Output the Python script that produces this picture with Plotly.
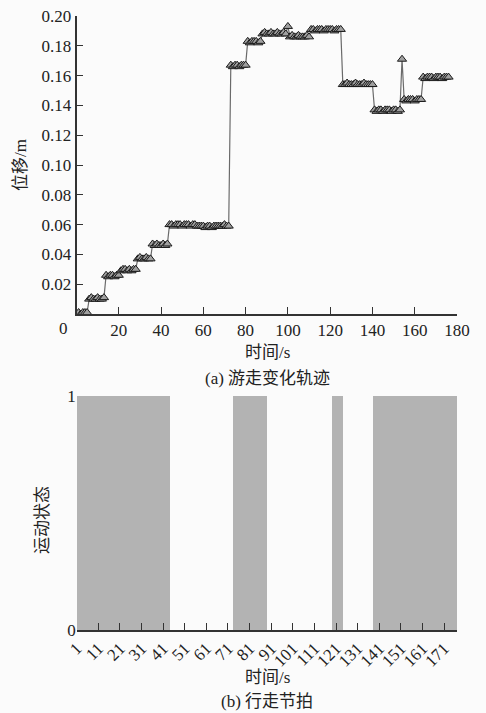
import plotly.graph_objects as go

# ---------------- data ----------------
# (a) displacement (m), one sample per second, t = 1..176
disp = [
    0.001, 0.000, 0.001, 0.001, 0.001,
    0.010, 0.011, 0.010, 0.010, 0.011, 0.010, 0.010, 0.011,
    0.026, 0.025, 0.026, 0.026, 0.025, 0.026, 0.026,
    0.029, 0.030, 0.030, 0.029, 0.030, 0.029, 0.030, 0.030,
    0.037, 0.038, 0.037, 0.037, 0.038, 0.037, 0.037,
    0.047, 0.046, 0.047, 0.046, 0.046, 0.047, 0.046, 0.047,
    0.060, 0.060, 0.059, 0.060, 0.060, 0.060, 0.059, 0.060, 0.060, 0.060,
    0.059, 0.060, 0.060, 0.059, 0.059, 0.059, 0.059, 0.058, 0.059, 0.059,
    0.058, 0.059, 0.059, 0.059, 0.059, 0.059, 0.060, 0.059, 0.059,
    0.167, 0.166, 0.167, 0.167, 0.166, 0.167, 0.167, 0.167,
    0.183, 0.182, 0.183, 0.183, 0.183, 0.182, 0.183,
    0.188, 0.189, 0.188, 0.188, 0.189, 0.188, 0.188, 0.189, 0.188, 0.188, 0.189, 0.188,
    0.193,
    0.186, 0.187, 0.186, 0.186, 0.187, 0.186, 0.186, 0.186, 0.187, 0.186,
    0.191, 0.191, 0.190, 0.191, 0.191, 0.191, 0.190, 0.191, 0.191, 0.191, 0.191, 0.190, 0.191, 0.191, 0.191,
    0.154, 0.154, 0.155, 0.154, 0.154, 0.154, 0.155, 0.154, 0.154, 0.154, 0.155, 0.154, 0.154, 0.154, 0.154,
    0.137, 0.136, 0.137, 0.137, 0.136, 0.137, 0.137, 0.137, 0.136, 0.137, 0.137, 0.136, 0.137,
    0.171,
    0.144, 0.143, 0.144, 0.144, 0.144, 0.143, 0.144, 0.144, 0.144,
    0.159, 0.158, 0.159, 0.159, 0.159, 0.158, 0.159, 0.159, 0.159, 0.158, 0.159, 0.159, 0.159,
]
time_s = list(range(1, len(disp) + 1))

# (b) walking state (1 = moving, 0 = resting), categories 1..176
state = [
    1, 1, 1, 1, 1, 1, 1, 1, 1, 1,
    1, 1, 1, 1, 1, 1, 1, 1, 1, 1,
    1, 1, 1, 1, 1, 1, 1, 1, 1, 1,
    1, 1, 1, 1, 1, 1, 1, 1, 1, 1,
    1, 1, 1, 0, 0, 0, 0, 0, 0, 0,
    0, 0, 0, 0, 0, 0, 0, 0, 0, 0,
    0, 0, 0, 0, 0, 0, 0, 0, 0, 0,
    0, 0, 1, 1, 1, 1, 1, 1, 1, 1,
    1, 1, 1, 1, 1, 1, 1, 1, 0, 0,
    0, 0, 0, 0, 0, 0, 0, 0, 0, 0,
    0, 0, 0, 0, 0, 0, 0, 0, 0, 0,
    0, 0, 0, 0, 0, 0, 0, 0, 1, 1,
    1, 1, 1, 0, 0, 0, 0, 0, 0, 0,
    0, 0, 0, 0, 0, 0, 0, 1, 1, 1,
    1, 1, 1, 1, 1, 1, 1, 1, 1, 1,
    1, 1, 1, 1, 1, 1, 1, 1, 1, 1,
    1, 1, 1, 1, 1, 1, 1, 1, 1, 1,
    1, 1, 1, 1, 1, 1,
]
state_cat = list(range(1, len(state) + 1))

top_x_ticks = [20, 40, 60, 80, 100, 120, 140, 160, 180]
top_y_ticks = [0.02, 0.04, 0.06, 0.08, 0.10, 0.12, 0.14, 0.16, 0.18, 0.20]
top_y_labels = ["0.02", "0.04", "0.06", "0.08", "0.10", "0.12", "0.14", "0.16", "0.18", "0.20"]
bot_x_labels = ["1", "11", "21", "31", "41", "51", "61", "71", "81", "91",
                "101", "111", "121", "131", "141", "151", "161", "171"]
bot_x_ticks = [int(s) - 0.5 for s in bot_x_labels]

# ---------------- figure ----------------
W, H = 486, 713
FONT = "Liberation Serif, Noto Sans CJK SC, serif"
TXT = "#222222"
BG = "#fbfbfb"

def px_x(p):
    return p / W

def px_y(p):
    return (H - p) / H

fig = go.Figure()

fig.add_trace(go.Scatter(
    x=time_s, y=disp, mode="lines+markers",
    line=dict(color="#6a6a6a", width=1.2),
    marker=dict(symbol="triangle-up", size=8, color="#a0a0a0",
                line=dict(color="#1a1a1a", width=1)),
    xaxis="x", yaxis="y", showlegend=False,
))

fig.add_trace(go.Bar(
    x=state_cat, y=state, width=1,
    marker=dict(color="#b3b3b3", line=dict(width=0)),
    xaxis="x2", yaxis="y2", showlegend=False,
))

axis_common = dict(
    showgrid=False, zeroline=False, ticks="inside", ticklen=7,
    tickwidth=1.3, tickcolor="#333333", automargin=False,
    tickfont=dict(family=FONT, size=17, color=TXT),
)

fig.update_layout(
    width=W, height=H,
    margin=dict(l=0, r=0, t=0, b=0, pad=0, autoexpand=False),
    paper_bgcolor=BG, plot_bgcolor=BG,
    bargap=0,
    xaxis=dict(
        domain=[px_x(76.5), px_x(457)], anchor="y",
        range=[0, 180], tickvals=top_x_ticks,
        showline=True, linecolor="#333333", linewidth=1.5,
        **axis_common,
    ),
    yaxis=dict(
        domain=[px_y(314), px_y(16)], anchor="x",
        range=[0, 0.2], tickvals=top_y_ticks, ticktext=top_y_labels,
        showline=True, linecolor="#333333", linewidth=1.5,
        **axis_common,
    ),
    xaxis2=dict(
        domain=[px_x(76.7), px_x(457)], anchor="y2",
        range=[0.5, 176.5], tickvals=bot_x_ticks, ticktext=bot_x_labels,
        tickangle=-45,
        showline=True, linecolor="#333333", linewidth=1.5,
        **axis_common,
    ),
    yaxis2=dict(
        domain=[px_y(630), px_y(395.7)], anchor="x2",
        range=[0, 1], tickvals=[0, 1], ticktext=["0", "1"],
        showline=False,
        **axis_common,
    ),
)

ann_font = dict(family=FONT, size=17, color=TXT)
annotations = [
    dict(text="0", x=px_x(63), y=px_y(328)),
    dict(text="位移/m", x=px_x(20), y=px_y(165), textangle=-90),
    dict(text="时间/s", x=px_x(267), y=px_y(352)),
    dict(text="(a) 游走变化轨迹", x=px_x(267), y=px_y(378)),
    dict(text="运动状态", x=px_x(42), y=px_y(520), textangle=-90),
    dict(text="时间/s", x=px_x(267), y=px_y(677)),
    dict(text="(b) 行走节拍", x=px_x(267), y=px_y(701)),
]
for a in annotations:
    fig.add_annotation(
        xref="paper", yref="paper", showarrow=False,
        xanchor="center", yanchor="middle", font=ann_font, **a,
    )

fig.write_html(
    "out.html",
    config={"displayModeBar": False},
    post_script="document.body.style.margin='0';document.body.style.background='%s';" % BG,
)
